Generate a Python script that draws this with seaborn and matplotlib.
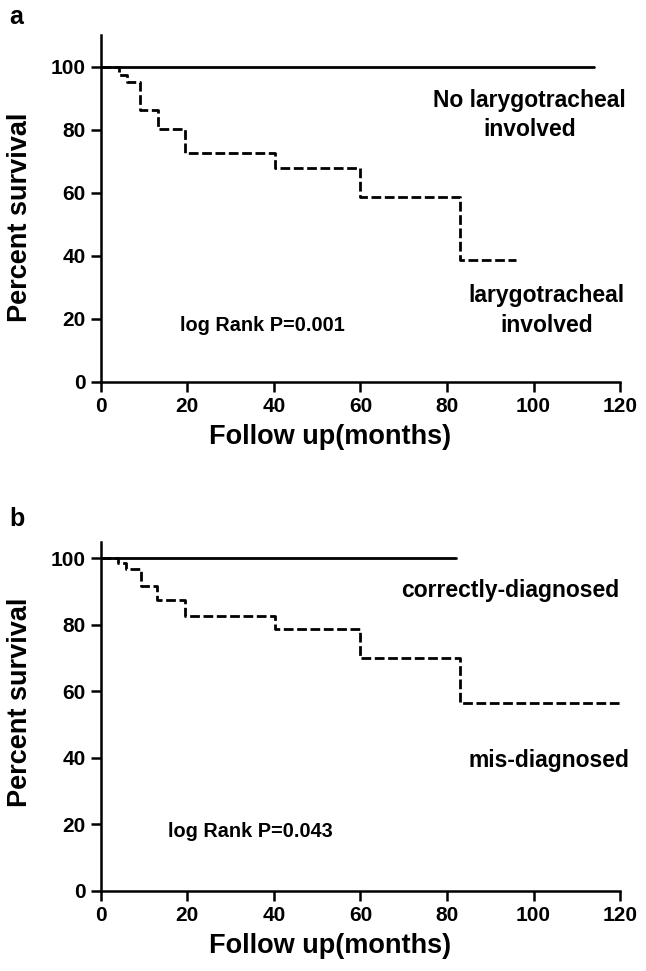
import matplotlib
matplotlib.use("Agg")
import matplotlib.pyplot as plt
import seaborn as sns
import pandas as pd

# Panel a data
a_inv_time = [0, 4.2, 6.1, 9.0, 13.2, 19.4, 40.2, 59.8, 83.1, 96]
a_inv_surv = [100, 97.4, 95.0, 86.3, 80.3, 72.6, 67.7, 58.5, 38.7, 38.7]
a_no_time = [0, 114]
a_no_surv = [100, 100]

# Panel b data
b_mis_time = [0, 4.0, 5.9, 9.4, 12.9, 19.4, 40.2, 59.8, 83.1, 120]
b_mis_surv = [100, 98.7, 96.9, 91.6, 87.6, 82.7, 78.9, 70.2, 56.4, 56.4]
b_cor_time = [0, 82]
b_cor_surv = [100, 100]

x_ticks = [0, 20, 40, 60, 80, 100, 120]
y_ticks = [0, 20, 40, 60, 80, 100]

sns.set_theme(style="ticks")
plt.rcParams['font.family'] = ['Liberation Sans', 'DejaVu Sans']
plt.rcParams['font.weight'] = 'bold'
plt.rcParams['text.color'] = 'black'
plt.rcParams['axes.labelcolor'] = 'black'
plt.rcParams['xtick.color'] = 'black'
plt.rcParams['ytick.color'] = 'black'

fig = plt.figure(figsize=(6.46, 9.71), dpi=100)
ax_a = fig.add_axes([0.156, 0.6066, 0.804, 0.3574])
ax_b = fig.add_axes([0.156, 0.0824, 0.804, 0.3596])

lw = 2.0

def draw(ax, t1, s1, t2, s2, ytop, ylab_y):
    d1 = pd.DataFrame({"t": t1, "s": s1})
    d2 = pd.DataFrame({"t": t2, "s": s2})
    sns.lineplot(data=d1, x="t", y="s", ax=ax, color="black", lw=lw,
                 drawstyle="steps-post", estimator=None, sort=False)
    sns.lineplot(data=d2, x="t", y="s", ax=ax, color="black", lw=lw,
                 drawstyle="steps-post", estimator=None, sort=False,
                 dashes=False, linestyle=(0, (3.5, 1.3)))
    ax.set_xlim(0, 120)
    ax.set_ylim(0, ytop)
    ax.set_xticks(x_ticks)
    ax.set_yticks(y_ticks)
    ax.tick_params(axis="both", direction="out", length=7, width=1.8,
                   labelsize=15, colors="black", pad=4)
    for lab in ax.get_xticklabels() + ax.get_yticklabels():
        lab.set_fontweight("bold")
    for sp in ["top", "right"]:
        ax.spines[sp].set_visible(False)
    for sp in ["left", "bottom"]:
        ax.spines[sp].set_linewidth(1.8)
        ax.spines[sp].set_color("black")
    ax.set_xlabel("Follow up(months)", fontsize=19.5, fontweight="bold", color="black")
    ax.set_ylabel("Percent survival", fontsize=19.5, fontweight="bold", color="black")
    ax.xaxis.set_label_coords(0.441, -0.12)
    ax.yaxis.set_label_coords(-0.131, ylab_y)

draw(ax_a, a_no_time, a_no_surv, a_inv_time, a_inv_surv, 110, 0.475)
draw(ax_b, b_cor_time, b_cor_surv, b_mis_time, b_mis_surv, 105, 0.54)

fs = 16.5
ax_a.text(99, 84.7, "No larygotracheal\ninvolved", ha="center", va="center",
          fontsize=fs, fontweight="bold", linespacing=1.35)
ax_a.text(103, 22.7, "larygotracheal\ninvolved", ha="center", va="center",
          fontsize=fs, fontweight="bold", linespacing=1.35)
ax_a.text(18.2, 18, "log Rank P=0.001", ha="left", va="center",
          fontsize=14.3, fontweight="bold")

ax_b.text(94.7, 90.4, "correctly-diagnosed", ha="center", va="center",
          fontsize=fs, fontweight="bold")
ax_b.text(103.5, 39.3, "mis-diagnosed", ha="center", va="center",
          fontsize=fs, fontweight="bold")
ax_b.text(15.5, 18, "log Rank P=0.043", ha="left", va="center",
          fontsize=14.3, fontweight="bold")

fig.text(0.015, 0.982, "a", fontsize=18, fontweight="bold", va="center")
fig.text(0.015, 0.465, "b", fontsize=18, fontweight="bold", va="center")

fig.savefig("out.png", dpi=100)
